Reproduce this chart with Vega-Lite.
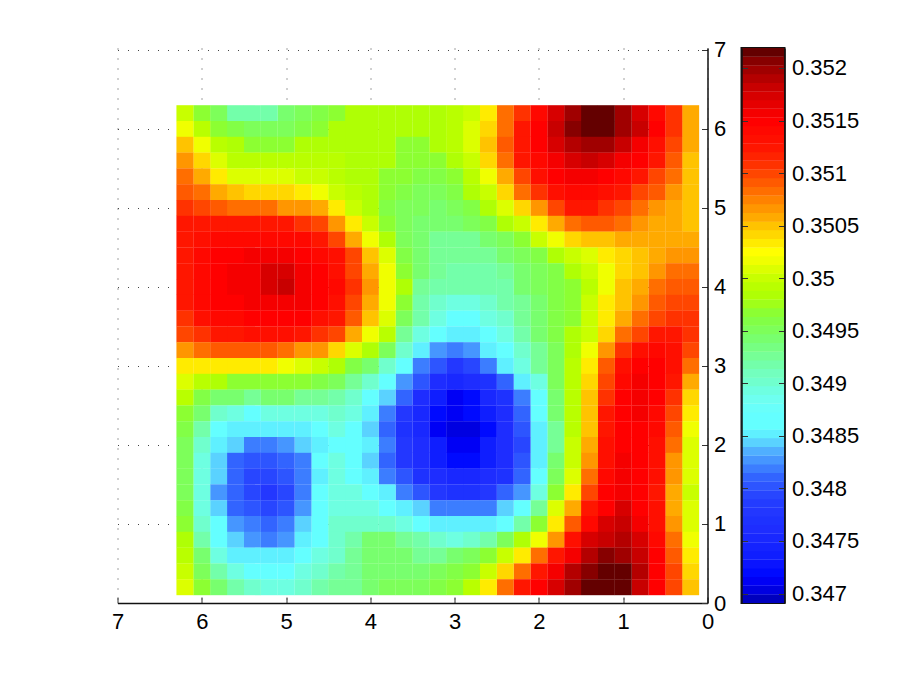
{"$schema":"https://vega.github.io/schema/vega-lite/v6.json","background":"white","padding":{"left":110.5,"top":38,"right":10,"bottom":10},"spacing":13,"config":{"font":"Liberation Sans","axis":{"title":null,"labelFont":"Liberation Sans","labelFontSize":22,"labelColor":"#000","domainColor":"#111","domainWidth":1.5,"labelPadding":12,"labelFlush":false,"labelOverlap":false}},"datasets":{"cb":[{"v":0.346951},{"v":0.347034},{"v":0.347116},{"v":0.347199},{"v":0.347281},{"v":0.347364},{"v":0.347446},{"v":0.347529},{"v":0.347611},{"v":0.347694},{"v":0.347776},{"v":0.347859},{"v":0.347941},{"v":0.348024},{"v":0.348106},{"v":0.348189},{"v":0.348271},{"v":0.348354},{"v":0.348436},{"v":0.348519},{"v":0.348601},{"v":0.348684},{"v":0.348766},{"v":0.348849},{"v":0.348931},{"v":0.349014},{"v":0.349096},{"v":0.349179},{"v":0.349261},{"v":0.349344},{"v":0.349426},{"v":0.349509},{"v":0.349591},{"v":0.349674},{"v":0.349756},{"v":0.349839},{"v":0.349921},{"v":0.350004},{"v":0.350086},{"v":0.350169},{"v":0.350251},{"v":0.350334},{"v":0.350416},{"v":0.350499},{"v":0.350581},{"v":0.350664},{"v":0.350746},{"v":0.350829},{"v":0.350911},{"v":0.350994},{"v":0.351076},{"v":0.351159},{"v":0.351241},{"v":0.351324},{"v":0.351406},{"v":0.351489},{"v":0.351571},{"v":0.351654},{"v":0.351736},{"v":0.351819},{"v":0.351901},{"v":0.351984},{"v":0.352066},{"v":0.352149}]},"resolve":{"scale":{"color":"independent"}},"hconcat":[{"width":590,"height":555,"view":{"stroke":null},"data":{"values":[
{"x":0.2,"y":6.2,"v":0.3506},{"x":0.4,"y":6.2,"v":0.3511},{"x":0.6,"y":6.2,"v":0.3514},{"x":0.8,"y":6.2,"v":0.3517},{"x":1.0,"y":6.2,"v":0.352},{"x":1.2,"y":6.2,"v":0.3522},{"x":1.4,"y":6.2,"v":0.3522},{"x":1.6,"y":6.2,"v":0.352},{"x":1.8,"y":6.2,"v":0.3517},{"x":2.0,"y":6.2,"v":0.3514},{"x":2.2,"y":6.2,"v":0.3511},{"x":2.4,"y":6.2,"v":0.3508},{"x":2.6,"y":6.2,"v":0.3503},{"x":2.8,"y":6.2,"v":0.35},{"x":3.0,"y":6.2,"v":0.3499},{"x":3.2,"y":6.2,"v":0.3498},{"x":3.4,"y":6.2,"v":0.3498},{"x":3.6,"y":6.2,"v":0.3498},{"x":3.8,"y":6.2,"v":0.3498},{"x":4.0,"y":6.2,"v":0.3498},{"x":4.2,"y":6.2,"v":0.3498},{"x":4.4,"y":6.2,"v":0.3497},{"x":4.6,"y":6.2,"v":0.3496},{"x":4.8,"y":6.2,"v":0.3495},{"x":5.0,"y":6.2,"v":0.3494},{"x":5.2,"y":6.2,"v":0.3492},{"x":5.4,"y":6.2,"v":0.3492},{"x":5.6,"y":6.2,"v":0.3492},{"x":5.8,"y":6.2,"v":0.3495},{"x":6.0,"y":6.2,"v":0.3497},{"x":6.2,"y":6.2,"v":0.35},
{"x":0.2,"y":6.0,"v":0.3506},{"x":0.4,"y":6.0,"v":0.3511},{"x":0.6,"y":6.0,"v":0.3515},{"x":0.8,"y":6.0,"v":0.3518},{"x":1.0,"y":6.0,"v":0.352},{"x":1.2,"y":6.0,"v":0.3522},{"x":1.4,"y":6.0,"v":0.3522},{"x":1.6,"y":6.0,"v":0.3521},{"x":1.8,"y":6.0,"v":0.3518},{"x":2.0,"y":6.0,"v":0.3515},{"x":2.2,"y":6.0,"v":0.3512},{"x":2.4,"y":6.0,"v":0.3508},{"x":2.6,"y":6.0,"v":0.3504},{"x":2.8,"y":6.0,"v":0.3501},{"x":3.0,"y":6.0,"v":0.3499},{"x":3.2,"y":6.0,"v":0.3498},{"x":3.4,"y":6.0,"v":0.3498},{"x":3.6,"y":6.0,"v":0.3498},{"x":3.8,"y":6.0,"v":0.3498},{"x":4.0,"y":6.0,"v":0.3498},{"x":4.2,"y":6.0,"v":0.3498},{"x":4.4,"y":6.0,"v":0.3498},{"x":4.6,"y":6.0,"v":0.3497},{"x":4.8,"y":6.0,"v":0.3496},{"x":5.0,"y":6.0,"v":0.3495},{"x":5.2,"y":6.0,"v":0.3495},{"x":5.4,"y":6.0,"v":0.3495},{"x":5.6,"y":6.0,"v":0.3496},{"x":5.8,"y":6.0,"v":0.3497},{"x":6.0,"y":6.0,"v":0.3499},{"x":6.2,"y":6.0,"v":0.3502},
{"x":0.2,"y":5.8,"v":0.3506},{"x":0.4,"y":5.8,"v":0.351},{"x":0.6,"y":5.8,"v":0.3513},{"x":0.8,"y":5.8,"v":0.3516},{"x":1.0,"y":5.8,"v":0.3518},{"x":1.2,"y":5.8,"v":0.352},{"x":1.4,"y":5.8,"v":0.352},{"x":1.6,"y":5.8,"v":0.3519},{"x":1.8,"y":5.8,"v":0.3517},{"x":2.0,"y":5.8,"v":0.3515},{"x":2.2,"y":5.8,"v":0.3512},{"x":2.4,"y":5.8,"v":0.3509},{"x":2.6,"y":5.8,"v":0.3505},{"x":2.8,"y":5.8,"v":0.3501},{"x":3.0,"y":5.8,"v":0.3499},{"x":3.2,"y":5.8,"v":0.3498},{"x":3.4,"y":5.8,"v":0.3497},{"x":3.6,"y":5.8,"v":0.3497},{"x":3.8,"y":5.8,"v":0.3498},{"x":4.0,"y":5.8,"v":0.3498},{"x":4.2,"y":5.8,"v":0.3498},{"x":4.4,"y":5.8,"v":0.3498},{"x":4.6,"y":5.8,"v":0.3498},{"x":4.8,"y":5.8,"v":0.3498},{"x":5.0,"y":5.8,"v":0.3497},{"x":5.2,"y":5.8,"v":0.3497},{"x":5.4,"y":5.8,"v":0.3497},{"x":5.6,"y":5.8,"v":0.3498},{"x":5.8,"y":5.8,"v":0.3499},{"x":6.0,"y":5.8,"v":0.3502},{"x":6.2,"y":5.8,"v":0.3505},
{"x":0.2,"y":5.6,"v":0.3505},{"x":0.4,"y":5.6,"v":0.3509},{"x":0.6,"y":5.6,"v":0.3512},{"x":0.8,"y":5.6,"v":0.3515},{"x":1.0,"y":5.6,"v":0.3516},{"x":1.2,"y":5.6,"v":0.3517},{"x":1.4,"y":5.6,"v":0.3518},{"x":1.6,"y":5.6,"v":0.3517},{"x":1.8,"y":5.6,"v":0.3516},{"x":2.0,"y":5.6,"v":0.3514},{"x":2.2,"y":5.6,"v":0.3512},{"x":2.4,"y":5.6,"v":0.3508},{"x":2.6,"y":5.6,"v":0.3504},{"x":2.8,"y":5.6,"v":0.35},{"x":3.0,"y":5.6,"v":0.3498},{"x":3.2,"y":5.6,"v":0.3497},{"x":3.4,"y":5.6,"v":0.3497},{"x":3.6,"y":5.6,"v":0.3497},{"x":3.8,"y":5.6,"v":0.3498},{"x":4.0,"y":5.6,"v":0.3498},{"x":4.2,"y":5.6,"v":0.3498},{"x":4.4,"y":5.6,"v":0.3499},{"x":4.6,"y":5.6,"v":0.3499},{"x":4.8,"y":5.6,"v":0.3499},{"x":5.0,"y":5.6,"v":0.3499},{"x":5.2,"y":5.6,"v":0.3499},{"x":5.4,"y":5.6,"v":0.3499},{"x":5.6,"y":5.6,"v":0.3499},{"x":5.8,"y":5.6,"v":0.3501},{"x":6.0,"y":5.6,"v":0.3504},{"x":6.2,"y":5.6,"v":0.3507},
{"x":0.2,"y":5.4,"v":0.3505},{"x":0.4,"y":5.4,"v":0.3508},{"x":0.6,"y":5.4,"v":0.351},{"x":0.8,"y":5.4,"v":0.3512},{"x":1.0,"y":5.4,"v":0.3514},{"x":1.2,"y":5.4,"v":0.3515},{"x":1.4,"y":5.4,"v":0.3516},{"x":1.6,"y":5.4,"v":0.3516},{"x":1.8,"y":5.4,"v":0.3515},{"x":2.0,"y":5.4,"v":0.3513},{"x":2.2,"y":5.4,"v":0.351},{"x":2.4,"y":5.4,"v":0.3506},{"x":2.6,"y":5.4,"v":0.3502},{"x":2.8,"y":5.4,"v":0.3499},{"x":3.0,"y":5.4,"v":0.3497},{"x":3.2,"y":5.4,"v":0.3496},{"x":3.4,"y":5.4,"v":0.3496},{"x":3.6,"y":5.4,"v":0.3497},{"x":3.8,"y":5.4,"v":0.3497},{"x":4.0,"y":5.4,"v":0.3498},{"x":4.2,"y":5.4,"v":0.3498},{"x":4.4,"y":5.4,"v":0.3499},{"x":4.6,"y":5.4,"v":0.35},{"x":4.8,"y":5.4,"v":0.35},{"x":5.0,"y":5.4,"v":0.3501},{"x":5.2,"y":5.4,"v":0.3501},{"x":5.4,"y":5.4,"v":0.3501},{"x":5.6,"y":5.4,"v":0.3501},{"x":5.8,"y":5.4,"v":0.3503},{"x":6.0,"y":5.4,"v":0.3506},{"x":6.2,"y":5.4,"v":0.3508},
{"x":0.2,"y":5.2,"v":0.3505},{"x":0.4,"y":5.2,"v":0.3507},{"x":0.6,"y":5.2,"v":0.3509},{"x":0.8,"y":5.2,"v":0.351},{"x":1.0,"y":5.2,"v":0.3512},{"x":1.2,"y":5.2,"v":0.3513},{"x":1.4,"y":5.2,"v":0.3514},{"x":1.6,"y":5.2,"v":0.3514},{"x":1.8,"y":5.2,"v":0.3513},{"x":2.0,"y":5.2,"v":0.3511},{"x":2.2,"y":5.2,"v":0.3508},{"x":2.4,"y":5.2,"v":0.3504},{"x":2.6,"y":5.2,"v":0.35},{"x":2.8,"y":5.2,"v":0.3498},{"x":3.0,"y":5.2,"v":0.3496},{"x":3.2,"y":5.2,"v":0.3495},{"x":3.4,"y":5.2,"v":0.3495},{"x":3.6,"y":5.2,"v":0.3496},{"x":3.8,"y":5.2,"v":0.3497},{"x":4.0,"y":5.2,"v":0.3498},{"x":4.2,"y":5.2,"v":0.3499},{"x":4.4,"y":5.2,"v":0.35},{"x":4.6,"y":5.2,"v":0.3502},{"x":4.8,"y":5.2,"v":0.3503},{"x":5.0,"y":5.2,"v":0.3504},{"x":5.2,"y":5.2,"v":0.3504},{"x":5.4,"y":5.2,"v":0.3504},{"x":5.6,"y":5.2,"v":0.3505},{"x":5.8,"y":5.2,"v":0.3506},{"x":6.0,"y":5.2,"v":0.3508},{"x":6.2,"y":5.2,"v":0.3509},
{"x":0.2,"y":5.0,"v":0.3505},{"x":0.4,"y":5.0,"v":0.3506},{"x":0.6,"y":5.0,"v":0.3507},{"x":0.8,"y":5.0,"v":0.3508},{"x":1.0,"y":5.0,"v":0.351},{"x":1.2,"y":5.0,"v":0.3511},{"x":1.4,"y":5.0,"v":0.3512},{"x":1.6,"y":5.0,"v":0.3512},{"x":1.8,"y":5.0,"v":0.351},{"x":2.0,"y":5.0,"v":0.3507},{"x":2.2,"y":5.0,"v":0.3504},{"x":2.4,"y":5.0,"v":0.3501},{"x":2.6,"y":5.0,"v":0.3498},{"x":2.8,"y":5.0,"v":0.3496},{"x":3.0,"y":5.0,"v":0.3495},{"x":3.2,"y":5.0,"v":0.3494},{"x":3.4,"y":5.0,"v":0.3495},{"x":3.6,"y":5.0,"v":0.3495},{"x":3.8,"y":5.0,"v":0.3496},{"x":4.0,"y":5.0,"v":0.3498},{"x":4.2,"y":5.0,"v":0.35},{"x":4.4,"y":5.0,"v":0.3503},{"x":4.6,"y":5.0,"v":0.3506},{"x":4.8,"y":5.0,"v":0.3507},{"x":5.0,"y":5.0,"v":0.3507},{"x":5.2,"y":5.0,"v":0.3508},{"x":5.4,"y":5.0,"v":0.3508},{"x":5.6,"y":5.0,"v":0.3508},{"x":5.8,"y":5.0,"v":0.3509},{"x":6.0,"y":5.0,"v":0.351},{"x":6.2,"y":5.0,"v":0.3511},
{"x":0.2,"y":4.8,"v":0.3505},{"x":0.4,"y":4.8,"v":0.3506},{"x":0.6,"y":4.8,"v":0.3506},{"x":0.8,"y":4.8,"v":0.3507},{"x":1.0,"y":4.8,"v":0.3508},{"x":1.2,"y":4.8,"v":0.3509},{"x":1.4,"y":4.8,"v":0.3509},{"x":1.6,"y":4.8,"v":0.3508},{"x":1.8,"y":4.8,"v":0.3506},{"x":2.0,"y":4.8,"v":0.3503},{"x":2.2,"y":4.8,"v":0.35},{"x":2.4,"y":4.8,"v":0.3498},{"x":2.6,"y":4.8,"v":0.3496},{"x":2.8,"y":4.8,"v":0.3495},{"x":3.0,"y":4.8,"v":0.3494},{"x":3.2,"y":4.8,"v":0.3494},{"x":3.4,"y":4.8,"v":0.3494},{"x":3.6,"y":4.8,"v":0.3495},{"x":3.8,"y":4.8,"v":0.3497},{"x":4.0,"y":4.8,"v":0.35},{"x":4.2,"y":4.8,"v":0.3503},{"x":4.4,"y":4.8,"v":0.3507},{"x":4.6,"y":4.8,"v":0.351},{"x":4.8,"y":4.8,"v":0.3511},{"x":5.0,"y":4.8,"v":0.3512},{"x":5.2,"y":4.8,"v":0.3512},{"x":5.4,"y":4.8,"v":0.3512},{"x":5.6,"y":4.8,"v":0.3512},{"x":5.8,"y":4.8,"v":0.3512},{"x":6.0,"y":4.8,"v":0.3512},{"x":6.2,"y":4.8,"v":0.3512},
{"x":0.2,"y":4.6,"v":0.3506},{"x":0.4,"y":4.6,"v":0.3506},{"x":0.6,"y":4.6,"v":0.3506},{"x":0.8,"y":4.6,"v":0.3506},{"x":1.0,"y":4.6,"v":0.3506},{"x":1.2,"y":4.6,"v":0.3505},{"x":1.4,"y":4.6,"v":0.3505},{"x":1.6,"y":4.6,"v":0.3504},{"x":1.8,"y":4.6,"v":0.3502},{"x":2.0,"y":4.6,"v":0.35},{"x":2.2,"y":4.6,"v":0.3497},{"x":2.4,"y":4.6,"v":0.3495},{"x":2.6,"y":4.6,"v":0.3494},{"x":2.8,"y":4.6,"v":0.3493},{"x":3.0,"y":4.6,"v":0.3493},{"x":3.2,"y":4.6,"v":0.3493},{"x":3.4,"y":4.6,"v":0.3494},{"x":3.6,"y":4.6,"v":0.3495},{"x":3.8,"y":4.6,"v":0.3498},{"x":4.0,"y":4.6,"v":0.3502},{"x":4.2,"y":4.6,"v":0.3506},{"x":4.4,"y":4.6,"v":0.351},{"x":4.6,"y":4.6,"v":0.3512},{"x":4.8,"y":4.6,"v":0.3514},{"x":5.0,"y":4.6,"v":0.3514},{"x":5.2,"y":4.6,"v":0.3514},{"x":5.4,"y":4.6,"v":0.3514},{"x":5.6,"y":4.6,"v":0.3514},{"x":5.8,"y":4.6,"v":0.3514},{"x":6.0,"y":4.6,"v":0.3513},{"x":6.2,"y":4.6,"v":0.3512},
{"x":0.2,"y":4.4,"v":0.3507},{"x":0.4,"y":4.4,"v":0.3507},{"x":0.6,"y":4.4,"v":0.3506},{"x":0.8,"y":4.4,"v":0.3505},{"x":1.0,"y":4.4,"v":0.3504},{"x":1.2,"y":4.4,"v":0.3503},{"x":1.4,"y":4.4,"v":0.3501},{"x":1.6,"y":4.4,"v":0.35},{"x":1.8,"y":4.4,"v":0.3498},{"x":2.0,"y":4.4,"v":0.3496},{"x":2.2,"y":4.4,"v":0.3495},{"x":2.4,"y":4.4,"v":0.3494},{"x":2.6,"y":4.4,"v":0.3493},{"x":2.8,"y":4.4,"v":0.3493},{"x":3.0,"y":4.4,"v":0.3493},{"x":3.2,"y":4.4,"v":0.3493},{"x":3.4,"y":4.4,"v":0.3494},{"x":3.6,"y":4.4,"v":0.3496},{"x":3.8,"y":4.4,"v":0.3501},{"x":4.0,"y":4.4,"v":0.3505},{"x":4.2,"y":4.4,"v":0.351},{"x":4.4,"y":4.4,"v":0.3513},{"x":4.6,"y":4.4,"v":0.3514},{"x":4.8,"y":4.4,"v":0.3515},{"x":5.0,"y":4.4,"v":0.3516},{"x":5.2,"y":4.4,"v":0.3516},{"x":5.4,"y":4.4,"v":0.3516},{"x":5.6,"y":4.4,"v":0.3515},{"x":5.8,"y":4.4,"v":0.3515},{"x":6.0,"y":4.4,"v":0.3514},{"x":6.2,"y":4.4,"v":0.3512},
{"x":0.2,"y":4.2,"v":0.3508},{"x":0.4,"y":4.2,"v":0.3508},{"x":0.6,"y":4.2,"v":0.3507},{"x":0.8,"y":4.2,"v":0.3505},{"x":1.0,"y":4.2,"v":0.3504},{"x":1.2,"y":4.2,"v":0.3502},{"x":1.4,"y":4.2,"v":0.35},{"x":1.6,"y":4.2,"v":0.3498},{"x":1.8,"y":4.2,"v":0.3496},{"x":2.0,"y":4.2,"v":0.3495},{"x":2.2,"y":4.2,"v":0.3494},{"x":2.4,"y":4.2,"v":0.3493},{"x":2.6,"y":4.2,"v":0.3492},{"x":2.8,"y":4.2,"v":0.3492},{"x":3.0,"y":4.2,"v":0.3492},{"x":3.2,"y":4.2,"v":0.3493},{"x":3.4,"y":4.2,"v":0.3494},{"x":3.6,"y":4.2,"v":0.3497},{"x":3.8,"y":4.2,"v":0.3502},{"x":4.0,"y":4.2,"v":0.3506},{"x":4.2,"y":4.2,"v":0.351},{"x":4.4,"y":4.2,"v":0.3513},{"x":4.6,"y":4.2,"v":0.3515},{"x":4.8,"y":4.2,"v":0.3516},{"x":5.0,"y":4.2,"v":0.3517},{"x":5.2,"y":4.2,"v":0.3517},{"x":5.4,"y":4.2,"v":0.3516},{"x":5.6,"y":4.2,"v":0.3516},{"x":5.8,"y":4.2,"v":0.3515},{"x":6.0,"y":4.2,"v":0.3514},{"x":6.2,"y":4.2,"v":0.3512},
{"x":0.2,"y":4.0,"v":0.3509},{"x":0.4,"y":4.0,"v":0.3509},{"x":0.6,"y":4.0,"v":0.3508},{"x":0.8,"y":4.0,"v":0.3506},{"x":1.0,"y":4.0,"v":0.3505},{"x":1.2,"y":4.0,"v":0.3502},{"x":1.4,"y":4.0,"v":0.3499},{"x":1.6,"y":4.0,"v":0.3497},{"x":1.8,"y":4.0,"v":0.3496},{"x":2.0,"y":4.0,"v":0.3495},{"x":2.2,"y":4.0,"v":0.3494},{"x":2.4,"y":4.0,"v":0.3492},{"x":2.6,"y":4.0,"v":0.3492},{"x":2.8,"y":4.0,"v":0.3492},{"x":3.0,"y":4.0,"v":0.3492},{"x":3.2,"y":4.0,"v":0.3492},{"x":3.4,"y":4.0,"v":0.3493},{"x":3.6,"y":4.0,"v":0.3498},{"x":3.8,"y":4.0,"v":0.3502},{"x":4.0,"y":4.0,"v":0.3507},{"x":4.2,"y":4.0,"v":0.3511},{"x":4.4,"y":4.0,"v":0.3514},{"x":4.6,"y":4.0,"v":0.3515},{"x":4.8,"y":4.0,"v":0.3516},{"x":5.0,"y":4.0,"v":0.3518},{"x":5.2,"y":4.0,"v":0.3517},{"x":5.4,"y":4.0,"v":0.3516},{"x":5.6,"y":4.0,"v":0.3516},{"x":5.8,"y":4.0,"v":0.3515},{"x":6.0,"y":4.0,"v":0.3514},{"x":6.2,"y":4.0,"v":0.3512},
{"x":0.2,"y":3.8,"v":0.351},{"x":0.4,"y":3.8,"v":0.351},{"x":0.6,"y":3.8,"v":0.3509},{"x":0.8,"y":3.8,"v":0.3507},{"x":1.0,"y":3.8,"v":0.3505},{"x":1.2,"y":3.8,"v":0.3503},{"x":1.4,"y":3.8,"v":0.35},{"x":1.6,"y":3.8,"v":0.3497},{"x":1.8,"y":3.8,"v":0.3496},{"x":2.0,"y":3.8,"v":0.3494},{"x":2.2,"y":3.8,"v":0.3493},{"x":2.4,"y":3.8,"v":0.3492},{"x":2.6,"y":3.8,"v":0.349},{"x":2.8,"y":3.8,"v":0.3489},{"x":3.0,"y":3.8,"v":0.3489},{"x":3.2,"y":3.8,"v":0.349},{"x":3.4,"y":3.8,"v":0.3492},{"x":3.6,"y":3.8,"v":0.3497},{"x":3.8,"y":3.8,"v":0.3502},{"x":4.0,"y":3.8,"v":0.3506},{"x":4.2,"y":3.8,"v":0.351},{"x":4.4,"y":3.8,"v":0.3513},{"x":4.6,"y":3.8,"v":0.3515},{"x":4.8,"y":3.8,"v":0.3516},{"x":5.0,"y":3.8,"v":0.3516},{"x":5.2,"y":3.8,"v":0.3516},{"x":5.4,"y":3.8,"v":0.3516},{"x":5.6,"y":3.8,"v":0.3515},{"x":5.8,"y":3.8,"v":0.3515},{"x":6.0,"y":3.8,"v":0.3514},{"x":6.2,"y":3.8,"v":0.3512},
{"x":0.2,"y":3.6,"v":0.3511},{"x":0.4,"y":3.6,"v":0.3511},{"x":0.6,"y":3.6,"v":0.351},{"x":0.8,"y":3.6,"v":0.3508},{"x":1.0,"y":3.6,"v":0.3506},{"x":1.2,"y":3.6,"v":0.3503},{"x":1.4,"y":3.6,"v":0.35},{"x":1.6,"y":3.6,"v":0.3497},{"x":1.8,"y":3.6,"v":0.3496},{"x":2.0,"y":3.6,"v":0.3494},{"x":2.2,"y":3.6,"v":0.3493},{"x":2.4,"y":3.6,"v":0.349},{"x":2.6,"y":3.6,"v":0.3489},{"x":2.8,"y":3.6,"v":0.3487},{"x":3.0,"y":3.6,"v":0.3487},{"x":3.2,"y":3.6,"v":0.3489},{"x":3.4,"y":3.6,"v":0.3492},{"x":3.6,"y":3.6,"v":0.3495},{"x":3.8,"y":3.6,"v":0.3501},{"x":4.0,"y":3.6,"v":0.3505},{"x":4.2,"y":3.6,"v":0.3509},{"x":4.4,"y":3.6,"v":0.3512},{"x":4.6,"y":3.6,"v":0.3513},{"x":4.8,"y":3.6,"v":0.3515},{"x":5.0,"y":3.6,"v":0.3515},{"x":5.2,"y":3.6,"v":0.3515},{"x":5.4,"y":3.6,"v":0.3515},{"x":5.6,"y":3.6,"v":0.3514},{"x":5.8,"y":3.6,"v":0.3514},{"x":6.0,"y":3.6,"v":0.3513},{"x":6.2,"y":3.6,"v":0.3511},
{"x":0.2,"y":3.4,"v":0.3511},{"x":0.4,"y":3.4,"v":0.3512},{"x":0.6,"y":3.4,"v":0.3512},{"x":0.8,"y":3.4,"v":0.351},{"x":1.0,"y":3.4,"v":0.3508},{"x":1.2,"y":3.4,"v":0.3504},{"x":1.4,"y":3.4,"v":0.35},{"x":1.6,"y":3.4,"v":0.3498},{"x":1.8,"y":3.4,"v":0.3496},{"x":2.0,"y":3.4,"v":0.3494},{"x":2.2,"y":3.4,"v":0.3492},{"x":2.4,"y":3.4,"v":0.3489},{"x":2.6,"y":3.4,"v":0.3487},{"x":2.8,"y":3.4,"v":0.3485},{"x":3.0,"y":3.4,"v":0.3485},{"x":3.2,"y":3.4,"v":0.3486},{"x":3.4,"y":3.4,"v":0.3489},{"x":3.6,"y":3.4,"v":0.3493},{"x":3.8,"y":3.4,"v":0.3499},{"x":4.0,"y":3.4,"v":0.3502},{"x":4.2,"y":3.4,"v":0.3506},{"x":4.4,"y":3.4,"v":0.351},{"x":4.6,"y":3.4,"v":0.3511},{"x":4.8,"y":3.4,"v":0.3512},{"x":5.0,"y":3.4,"v":0.3513},{"x":5.2,"y":3.4,"v":0.3513},{"x":5.4,"y":3.4,"v":0.3513},{"x":5.6,"y":3.4,"v":0.3512},{"x":5.8,"y":3.4,"v":0.3512},{"x":6.0,"y":3.4,"v":0.3511},{"x":6.2,"y":3.4,"v":0.351},
{"x":0.2,"y":3.2,"v":0.351},{"x":0.4,"y":3.2,"v":0.3513},{"x":0.6,"y":3.2,"v":0.3514},{"x":0.8,"y":3.2,"v":0.3513},{"x":1.0,"y":3.2,"v":0.3511},{"x":1.2,"y":3.2,"v":0.3507},{"x":1.4,"y":3.2,"v":0.3502},{"x":1.6,"y":3.2,"v":0.3498},{"x":1.8,"y":3.2,"v":0.3495},{"x":2.0,"y":3.2,"v":0.3493},{"x":2.2,"y":3.2,"v":0.349},{"x":2.4,"y":3.2,"v":0.3486},{"x":2.6,"y":3.2,"v":0.3485},{"x":2.8,"y":3.2,"v":0.3483},{"x":3.0,"y":3.2,"v":0.3482},{"x":3.2,"y":3.2,"v":0.3483},{"x":3.4,"y":3.2,"v":0.3485},{"x":3.6,"y":3.2,"v":0.349},{"x":3.8,"y":3.2,"v":0.3495},{"x":4.0,"y":3.2,"v":0.3498},{"x":4.2,"y":3.2,"v":0.3501},{"x":4.4,"y":3.2,"v":0.3504},{"x":4.6,"y":3.2,"v":0.3507},{"x":4.8,"y":3.2,"v":0.3507},{"x":5.0,"y":3.2,"v":0.3508},{"x":5.2,"y":3.2,"v":0.3509},{"x":5.4,"y":3.2,"v":0.3509},{"x":5.6,"y":3.2,"v":0.3509},{"x":5.8,"y":3.2,"v":0.3509},{"x":6.0,"y":3.2,"v":0.3508},{"x":6.2,"y":3.2,"v":0.3507},
{"x":0.2,"y":3.0,"v":0.3508},{"x":0.4,"y":3.0,"v":0.3513},{"x":0.6,"y":3.0,"v":0.3515},{"x":0.8,"y":3.0,"v":0.3515},{"x":1.0,"y":3.0,"v":0.3513},{"x":1.2,"y":3.0,"v":0.3509},{"x":1.4,"y":3.0,"v":0.3503},{"x":1.6,"y":3.0,"v":0.3499},{"x":1.8,"y":3.0,"v":0.3495},{"x":2.0,"y":3.0,"v":0.3493},{"x":2.2,"y":3.0,"v":0.3489},{"x":2.4,"y":3.0,"v":0.3485},{"x":2.6,"y":3.0,"v":0.3482},{"x":2.8,"y":3.0,"v":0.3479},{"x":3.0,"y":3.0,"v":0.3478},{"x":3.2,"y":3.0,"v":0.348},{"x":3.4,"y":3.0,"v":0.3482},{"x":3.6,"y":3.0,"v":0.3486},{"x":3.8,"y":3.0,"v":0.349},{"x":4.0,"y":3.0,"v":0.3494},{"x":4.2,"y":3.0,"v":0.3496},{"x":4.4,"y":3.0,"v":0.3498},{"x":4.6,"y":3.0,"v":0.35},{"x":4.8,"y":3.0,"v":0.3501},{"x":5.0,"y":3.0,"v":0.3502},{"x":5.2,"y":3.0,"v":0.3503},{"x":5.4,"y":3.0,"v":0.3503},{"x":5.6,"y":3.0,"v":0.3503},{"x":5.8,"y":3.0,"v":0.3503},{"x":6.0,"y":3.0,"v":0.3503},{"x":6.2,"y":3.0,"v":0.3503},
{"x":0.2,"y":2.8,"v":0.3506},{"x":0.4,"y":2.8,"v":0.3512},{"x":0.6,"y":2.8,"v":0.3515},{"x":0.8,"y":2.8,"v":0.3516},{"x":1.0,"y":2.8,"v":0.3514},{"x":1.2,"y":2.8,"v":0.351},{"x":1.4,"y":2.8,"v":0.3504},{"x":1.6,"y":2.8,"v":0.3499},{"x":1.8,"y":2.8,"v":0.3495},{"x":2.0,"y":2.8,"v":0.3489},{"x":2.2,"y":2.8,"v":0.3485},{"x":2.4,"y":2.8,"v":0.3481},{"x":2.6,"y":2.8,"v":0.3477},{"x":2.8,"y":2.8,"v":0.3476},{"x":3.0,"y":2.8,"v":0.3475},{"x":3.2,"y":2.8,"v":0.3476},{"x":3.4,"y":2.8,"v":0.348},{"x":3.6,"y":2.8,"v":0.3483},{"x":3.8,"y":2.8,"v":0.3486},{"x":4.0,"y":2.8,"v":0.349},{"x":4.2,"y":2.8,"v":0.3493},{"x":4.4,"y":2.8,"v":0.3495},{"x":4.6,"y":2.8,"v":0.3496},{"x":4.8,"y":2.8,"v":0.3497},{"x":5.0,"y":2.8,"v":0.3497},{"x":5.2,"y":2.8,"v":0.3497},{"x":5.4,"y":2.8,"v":0.3497},{"x":5.6,"y":2.8,"v":0.3497},{"x":5.8,"y":2.8,"v":0.3498},{"x":6.0,"y":2.8,"v":0.3499},{"x":6.2,"y":2.8,"v":0.3501},
{"x":0.2,"y":2.6,"v":0.3504},{"x":0.4,"y":2.6,"v":0.3511},{"x":0.6,"y":2.6,"v":0.3515},{"x":0.8,"y":2.6,"v":0.3516},{"x":1.0,"y":2.6,"v":0.3515},{"x":1.2,"y":2.6,"v":0.3511},{"x":1.4,"y":2.6,"v":0.3505},{"x":1.6,"y":2.6,"v":0.3499},{"x":1.8,"y":2.6,"v":0.3494},{"x":2.0,"y":2.6,"v":0.3487},{"x":2.2,"y":2.6,"v":0.3482},{"x":2.4,"y":2.6,"v":0.3477},{"x":2.6,"y":2.6,"v":0.3475},{"x":2.8,"y":2.6,"v":0.3472},{"x":3.0,"y":2.6,"v":0.3471},{"x":3.2,"y":2.6,"v":0.3474},{"x":3.4,"y":2.6,"v":0.3476},{"x":3.6,"y":2.6,"v":0.3481},{"x":3.8,"y":2.6,"v":0.3484},{"x":4.0,"y":2.6,"v":0.3487},{"x":4.2,"y":2.6,"v":0.349},{"x":4.4,"y":2.6,"v":0.3492},{"x":4.6,"y":2.6,"v":0.3493},{"x":4.8,"y":2.6,"v":0.3493},{"x":5.0,"y":2.6,"v":0.3494},{"x":5.2,"y":2.6,"v":0.3494},{"x":5.4,"y":2.6,"v":0.3493},{"x":5.6,"y":2.6,"v":0.3494},{"x":5.8,"y":2.6,"v":0.3494},{"x":6.0,"y":2.6,"v":0.3496},{"x":6.2,"y":2.6,"v":0.3499},
{"x":0.2,"y":2.4,"v":0.3503},{"x":0.4,"y":2.4,"v":0.351},{"x":0.6,"y":2.4,"v":0.3514},{"x":0.8,"y":2.4,"v":0.3516},{"x":1.0,"y":2.4,"v":0.3515},{"x":1.2,"y":2.4,"v":0.3512},{"x":1.4,"y":2.4,"v":0.3505},{"x":1.6,"y":2.4,"v":0.3499},{"x":1.8,"y":2.4,"v":0.3494},{"x":2.0,"y":2.4,"v":0.3486},{"x":2.2,"y":2.4,"v":0.3481},{"x":2.4,"y":2.4,"v":0.3476},{"x":2.6,"y":2.4,"v":0.3474},{"x":2.8,"y":2.4,"v":0.3472},{"x":3.0,"y":2.4,"v":0.3471},{"x":3.2,"y":2.4,"v":0.3472},{"x":3.4,"y":2.4,"v":0.3475},{"x":3.6,"y":2.4,"v":0.3478},{"x":3.8,"y":2.4,"v":0.3482},{"x":4.0,"y":2.4,"v":0.3485},{"x":4.2,"y":2.4,"v":0.3489},{"x":4.4,"y":2.4,"v":0.349},{"x":4.6,"y":2.4,"v":0.3489},{"x":4.8,"y":2.4,"v":0.3489},{"x":5.0,"y":2.4,"v":0.3489},{"x":5.2,"y":2.4,"v":0.3489},{"x":5.4,"y":2.4,"v":0.3487},{"x":5.6,"y":2.4,"v":0.3489},{"x":5.8,"y":2.4,"v":0.349},{"x":6.0,"y":2.4,"v":0.3494},{"x":6.2,"y":2.4,"v":0.3497},
{"x":0.2,"y":2.2,"v":0.3502},{"x":0.4,"y":2.2,"v":0.3509},{"x":0.6,"y":2.2,"v":0.3514},{"x":0.8,"y":2.2,"v":0.3515},{"x":1.0,"y":2.2,"v":0.3515},{"x":1.2,"y":2.2,"v":0.3512},{"x":1.4,"y":2.2,"v":0.3505},{"x":1.6,"y":2.2,"v":0.3499},{"x":1.8,"y":2.2,"v":0.3493},{"x":2.0,"y":2.2,"v":0.3485},{"x":2.2,"y":2.2,"v":0.348},{"x":2.4,"y":2.2,"v":0.3476},{"x":2.6,"y":2.2,"v":0.3472},{"x":2.8,"y":2.2,"v":0.347},{"x":3.0,"y":2.2,"v":0.347},{"x":3.2,"y":2.2,"v":0.3471},{"x":3.4,"y":2.2,"v":0.3475},{"x":3.6,"y":2.2,"v":0.3477},{"x":3.8,"y":2.2,"v":0.3481},{"x":4.0,"y":2.2,"v":0.3484},{"x":4.2,"y":2.2,"v":0.3487},{"x":4.4,"y":2.2,"v":0.3489},{"x":4.6,"y":2.2,"v":0.3487},{"x":4.8,"y":2.2,"v":0.3485},{"x":5.0,"y":2.2,"v":0.3485},{"x":5.2,"y":2.2,"v":0.3485},{"x":5.4,"y":2.2,"v":0.3485},{"x":5.6,"y":2.2,"v":0.3485},{"x":5.8,"y":2.2,"v":0.3487},{"x":6.0,"y":2.2,"v":0.3492},{"x":6.2,"y":2.2,"v":0.3496},
{"x":0.2,"y":2.0,"v":0.3501},{"x":0.4,"y":2.0,"v":0.3508},{"x":0.6,"y":2.0,"v":0.3513},{"x":0.8,"y":2.0,"v":0.3515},{"x":1.0,"y":2.0,"v":0.3515},{"x":1.2,"y":2.0,"v":0.3513},{"x":1.4,"y":2.0,"v":0.3506},{"x":1.6,"y":2.0,"v":0.35},{"x":1.8,"y":2.0,"v":0.3493},{"x":2.0,"y":2.0,"v":0.3485},{"x":2.2,"y":2.0,"v":0.3479},{"x":2.4,"y":2.0,"v":0.3476},{"x":2.6,"y":2.0,"v":0.3474},{"x":2.8,"y":2.0,"v":0.3471},{"x":3.0,"y":2.0,"v":0.3471},{"x":3.2,"y":2.0,"v":0.3474},{"x":3.4,"y":2.0,"v":0.3476},{"x":3.6,"y":2.0,"v":0.3478},{"x":3.8,"y":2.0,"v":0.3482},{"x":4.0,"y":2.0,"v":0.3485},{"x":4.2,"y":2.0,"v":0.3486},{"x":4.4,"y":2.0,"v":0.3487},{"x":4.6,"y":2.0,"v":0.3485},{"x":4.8,"y":2.0,"v":0.3484},{"x":5.0,"y":2.0,"v":0.3483},{"x":5.2,"y":2.0,"v":0.3482},{"x":5.4,"y":2.0,"v":0.3482},{"x":5.6,"y":2.0,"v":0.3484},{"x":5.8,"y":2.0,"v":0.3485},{"x":6.0,"y":2.0,"v":0.349},{"x":6.2,"y":2.0,"v":0.3495},
{"x":0.2,"y":1.8,"v":0.3501},{"x":0.4,"y":1.8,"v":0.3507},{"x":0.6,"y":1.8,"v":0.3513},{"x":0.8,"y":1.8,"v":0.3515},{"x":1.0,"y":1.8,"v":0.3516},{"x":1.2,"y":1.8,"v":0.3513},{"x":1.4,"y":1.8,"v":0.3507},{"x":1.6,"y":1.8,"v":0.35},{"x":1.8,"y":1.8,"v":0.3494},{"x":2.0,"y":1.8,"v":0.3485},{"x":2.2,"y":1.8,"v":0.348},{"x":2.4,"y":1.8,"v":0.3476},{"x":2.6,"y":1.8,"v":0.3474},{"x":2.8,"y":1.8,"v":0.3472},{"x":3.0,"y":1.8,"v":0.3472},{"x":3.2,"y":1.8,"v":0.3474},{"x":3.4,"y":1.8,"v":0.3476},{"x":3.6,"y":1.8,"v":0.3478},{"x":3.8,"y":1.8,"v":0.3481},{"x":4.0,"y":1.8,"v":0.3484},{"x":4.2,"y":1.8,"v":0.3486},{"x":4.4,"y":1.8,"v":0.3489},{"x":4.6,"y":1.8,"v":0.3486},{"x":4.8,"y":1.8,"v":0.3482},{"x":5.0,"y":1.8,"v":0.3481},{"x":5.2,"y":1.8,"v":0.348},{"x":5.4,"y":1.8,"v":0.348},{"x":5.6,"y":1.8,"v":0.3481},{"x":5.8,"y":1.8,"v":0.3484},{"x":6.0,"y":1.8,"v":0.3489},{"x":6.2,"y":1.8,"v":0.3495},
{"x":0.2,"y":1.6,"v":0.3501},{"x":0.4,"y":1.6,"v":0.3507},{"x":0.6,"y":1.6,"v":0.3513},{"x":0.8,"y":1.6,"v":0.3515},{"x":1.0,"y":1.6,"v":0.3516},{"x":1.2,"y":1.6,"v":0.3514},{"x":1.4,"y":1.6,"v":0.3508},{"x":1.6,"y":1.6,"v":0.3501},{"x":1.8,"y":1.6,"v":0.3495},{"x":2.0,"y":1.6,"v":0.3486},{"x":2.2,"y":1.6,"v":0.3481},{"x":2.4,"y":1.6,"v":0.3477},{"x":2.6,"y":1.6,"v":0.3476},{"x":2.8,"y":1.6,"v":0.3475},{"x":3.0,"y":1.6,"v":0.3475},{"x":3.2,"y":1.6,"v":0.3476},{"x":3.4,"y":1.6,"v":0.3477},{"x":3.6,"y":1.6,"v":0.348},{"x":3.8,"y":1.6,"v":0.3482},{"x":4.0,"y":1.6,"v":0.3485},{"x":4.2,"y":1.6,"v":0.3487},{"x":4.4,"y":1.6,"v":0.3489},{"x":4.6,"y":1.6,"v":0.3485},{"x":4.8,"y":1.6,"v":0.3482},{"x":5.0,"y":1.6,"v":0.348},{"x":5.2,"y":1.6,"v":0.3479},{"x":5.4,"y":1.6,"v":0.3479},{"x":5.6,"y":1.6,"v":0.3481},{"x":5.8,"y":1.6,"v":0.3484},{"x":6.0,"y":1.6,"v":0.3489},{"x":6.2,"y":1.6,"v":0.3495},
{"x":0.2,"y":1.4,"v":0.35},{"x":0.4,"y":1.4,"v":0.3506},{"x":0.6,"y":1.4,"v":0.3512},{"x":0.8,"y":1.4,"v":0.3515},{"x":1.0,"y":1.4,"v":0.3516},{"x":1.2,"y":1.4,"v":0.3515},{"x":1.4,"y":1.4,"v":0.351},{"x":1.6,"y":1.4,"v":0.3503},{"x":1.8,"y":1.4,"v":0.3497},{"x":2.0,"y":1.4,"v":0.3489},{"x":2.2,"y":1.4,"v":0.3483},{"x":2.4,"y":1.4,"v":0.3481},{"x":2.6,"y":1.4,"v":0.3478},{"x":2.8,"y":1.4,"v":0.3477},{"x":3.0,"y":1.4,"v":0.3477},{"x":3.2,"y":1.4,"v":0.3478},{"x":3.4,"y":1.4,"v":0.348},{"x":3.6,"y":1.4,"v":0.3482},{"x":3.8,"y":1.4,"v":0.3485},{"x":4.0,"y":1.4,"v":0.3486},{"x":4.2,"y":1.4,"v":0.3489},{"x":4.4,"y":1.4,"v":0.3489},{"x":4.6,"y":1.4,"v":0.3486},{"x":4.8,"y":1.4,"v":0.3482},{"x":5.0,"y":1.4,"v":0.3479},{"x":5.2,"y":1.4,"v":0.3478},{"x":5.4,"y":1.4,"v":0.3479},{"x":5.6,"y":1.4,"v":0.3481},{"x":5.8,"y":1.4,"v":0.3483},{"x":6.0,"y":1.4,"v":0.3489},{"x":6.2,"y":1.4,"v":0.3495},
{"x":0.2,"y":1.2,"v":0.3501},{"x":0.4,"y":1.2,"v":0.3506},{"x":0.6,"y":1.2,"v":0.3513},{"x":0.8,"y":1.2,"v":0.3515},{"x":1.0,"y":1.2,"v":0.3517},{"x":1.2,"y":1.2,"v":0.3515},{"x":1.4,"y":1.2,"v":0.3512},{"x":1.6,"y":1.2,"v":0.3506},{"x":1.8,"y":1.2,"v":0.3501},{"x":2.0,"y":1.2,"v":0.3493},{"x":2.2,"y":1.2,"v":0.3486},{"x":2.4,"y":1.2,"v":0.3484},{"x":2.6,"y":1.2,"v":0.3482},{"x":2.8,"y":1.2,"v":0.3482},{"x":3.0,"y":1.2,"v":0.3482},{"x":3.2,"y":1.2,"v":0.3482},{"x":3.4,"y":1.2,"v":0.3484},{"x":3.6,"y":1.2,"v":0.3485},{"x":3.8,"y":1.2,"v":0.3487},{"x":4.0,"y":1.2,"v":0.3489},{"x":4.2,"y":1.2,"v":0.3489},{"x":4.4,"y":1.2,"v":0.3489},{"x":4.6,"y":1.2,"v":0.3486},{"x":4.8,"y":1.2,"v":0.3483},{"x":5.0,"y":1.2,"v":0.348},{"x":5.2,"y":1.2,"v":0.3479},{"x":5.4,"y":1.2,"v":0.348},{"x":5.6,"y":1.2,"v":0.3481},{"x":5.8,"y":1.2,"v":0.3484},{"x":6.0,"y":1.2,"v":0.3489},{"x":6.2,"y":1.2,"v":0.3496},
{"x":0.2,"y":1.0,"v":0.3501},{"x":0.4,"y":1.0,"v":0.3507},{"x":0.6,"y":1.0,"v":0.3513},{"x":0.8,"y":1.0,"v":0.3516},{"x":1.0,"y":1.0,"v":0.3518},{"x":1.2,"y":1.0,"v":0.3517},{"x":1.4,"y":1.0,"v":0.3514},{"x":1.6,"y":1.0,"v":0.3509},{"x":1.8,"y":1.0,"v":0.3503},{"x":2.0,"y":1.0,"v":0.3497},{"x":2.2,"y":1.0,"v":0.3492},{"x":2.4,"y":1.0,"v":0.3487},{"x":2.6,"y":1.0,"v":0.3485},{"x":2.8,"y":1.0,"v":0.3485},{"x":3.0,"y":1.0,"v":0.3485},{"x":3.2,"y":1.0,"v":0.3485},{"x":3.4,"y":1.0,"v":0.3487},{"x":3.6,"y":1.0,"v":0.3489},{"x":3.8,"y":1.0,"v":0.349},{"x":4.0,"y":1.0,"v":0.349},{"x":4.2,"y":1.0,"v":0.349},{"x":4.4,"y":1.0,"v":0.349},{"x":4.6,"y":1.0,"v":0.3487},{"x":4.8,"y":1.0,"v":0.3484},{"x":5.0,"y":1.0,"v":0.3482},{"x":5.2,"y":1.0,"v":0.3481},{"x":5.4,"y":1.0,"v":0.3482},{"x":5.6,"y":1.0,"v":0.3483},{"x":5.8,"y":1.0,"v":0.3486},{"x":6.0,"y":1.0,"v":0.349},{"x":6.2,"y":1.0,"v":0.3497},
{"x":0.2,"y":0.8,"v":0.3502},{"x":0.4,"y":0.8,"v":0.3508},{"x":0.6,"y":0.8,"v":0.3514},{"x":0.8,"y":0.8,"v":0.3517},{"x":1.0,"y":0.8,"v":0.3519},{"x":1.2,"y":0.8,"v":0.3518},{"x":1.4,"y":0.8,"v":0.3517},{"x":1.6,"y":0.8,"v":0.3513},{"x":1.8,"y":0.8,"v":0.3507},{"x":2.0,"y":0.8,"v":0.3502},{"x":2.2,"y":0.8,"v":0.3498},{"x":2.4,"y":0.8,"v":0.3495},{"x":2.6,"y":0.8,"v":0.3492},{"x":2.8,"y":0.8,"v":0.349},{"x":3.0,"y":0.8,"v":0.3489},{"x":3.2,"y":0.8,"v":0.349},{"x":3.4,"y":0.8,"v":0.3492},{"x":3.6,"y":0.8,"v":0.3493},{"x":3.8,"y":0.8,"v":0.3494},{"x":4.0,"y":0.8,"v":0.3494},{"x":4.2,"y":0.8,"v":0.3492},{"x":4.4,"y":0.8,"v":0.349},{"x":4.6,"y":0.8,"v":0.3487},{"x":4.8,"y":0.8,"v":0.3485},{"x":5.0,"y":0.8,"v":0.3483},{"x":5.2,"y":0.8,"v":0.3482},{"x":5.4,"y":0.8,"v":0.3483},{"x":5.6,"y":0.8,"v":0.3484},{"x":5.8,"y":0.8,"v":0.3486},{"x":6.0,"y":0.8,"v":0.3492},{"x":6.2,"y":0.8,"v":0.3498},
{"x":0.2,"y":0.6,"v":0.3503},{"x":0.4,"y":0.6,"v":0.3509},{"x":0.6,"y":0.6,"v":0.3515},{"x":0.8,"y":0.6,"v":0.3518},{"x":1.0,"y":0.6,"v":0.352},{"x":1.2,"y":0.6,"v":0.3521},{"x":1.4,"y":0.6,"v":0.3519},{"x":1.6,"y":0.6,"v":0.3516},{"x":1.8,"y":0.6,"v":0.3512},{"x":2.0,"y":0.6,"v":0.3508},{"x":2.2,"y":0.6,"v":0.3503},{"x":2.4,"y":0.6,"v":0.35},{"x":2.6,"y":0.6,"v":0.3497},{"x":2.8,"y":0.6,"v":0.3495},{"x":3.0,"y":0.6,"v":0.3494},{"x":3.2,"y":0.6,"v":0.3493},{"x":3.4,"y":0.6,"v":0.3493},{"x":3.6,"y":0.6,"v":0.3494},{"x":3.8,"y":0.6,"v":0.3494},{"x":4.0,"y":0.6,"v":0.3494},{"x":4.2,"y":0.6,"v":0.3493},{"x":4.4,"y":0.6,"v":0.349},{"x":4.6,"y":0.6,"v":0.3489},{"x":4.8,"y":0.6,"v":0.3486},{"x":5.0,"y":0.6,"v":0.3485},{"x":5.2,"y":0.6,"v":0.3485},{"x":5.4,"y":0.6,"v":0.3485},{"x":5.6,"y":0.6,"v":0.3485},{"x":5.8,"y":0.6,"v":0.3489},{"x":6.0,"y":0.6,"v":0.3494},{"x":6.2,"y":0.6,"v":0.3499},
{"x":0.2,"y":0.4,"v":0.3504},{"x":0.4,"y":0.4,"v":0.351},{"x":0.6,"y":0.4,"v":0.3515},{"x":0.8,"y":0.4,"v":0.3519},{"x":1.0,"y":0.4,"v":0.3522},{"x":1.2,"y":0.4,"v":0.3522},{"x":1.4,"y":0.4,"v":0.3521},{"x":1.6,"y":0.4,"v":0.3519},{"x":1.8,"y":0.4,"v":0.3516},{"x":2.0,"y":0.4,"v":0.3512},{"x":2.2,"y":0.4,"v":0.3508},{"x":2.4,"y":0.4,"v":0.3504},{"x":2.6,"y":0.4,"v":0.35},{"x":2.8,"y":0.4,"v":0.3497},{"x":3.0,"y":0.4,"v":0.3496},{"x":3.2,"y":0.4,"v":0.3495},{"x":3.4,"y":0.4,"v":0.3494},{"x":3.6,"y":0.4,"v":0.3494},{"x":3.8,"y":0.4,"v":0.3494},{"x":4.0,"y":0.4,"v":0.3494},{"x":4.2,"y":0.4,"v":0.3493},{"x":4.4,"y":0.4,"v":0.3492},{"x":4.6,"y":0.4,"v":0.349},{"x":4.8,"y":0.4,"v":0.3489},{"x":5.0,"y":0.4,"v":0.3487},{"x":5.2,"y":0.4,"v":0.3487},{"x":5.4,"y":0.4,"v":0.3487},{"x":5.6,"y":0.4,"v":0.3489},{"x":5.8,"y":0.4,"v":0.3492},{"x":6.0,"y":0.4,"v":0.3495},{"x":6.2,"y":0.4,"v":0.35},
{"x":0.2,"y":0.2,"v":0.3505},{"x":0.4,"y":0.2,"v":0.351},{"x":0.6,"y":0.2,"v":0.3515},{"x":0.8,"y":0.2,"v":0.3518},{"x":1.0,"y":0.2,"v":0.3522},{"x":1.2,"y":0.2,"v":0.3523},{"x":1.4,"y":0.2,"v":0.3522},{"x":1.6,"y":0.2,"v":0.352},{"x":1.8,"y":0.2,"v":0.3517},{"x":2.0,"y":0.2,"v":0.3515},{"x":2.2,"y":0.2,"v":0.3512},{"x":2.4,"y":0.2,"v":0.3508},{"x":2.6,"y":0.2,"v":0.3503},{"x":2.8,"y":0.2,"v":0.3499},{"x":3.0,"y":0.2,"v":0.3497},{"x":3.2,"y":0.2,"v":0.3496},{"x":3.4,"y":0.2,"v":0.3495},{"x":3.6,"y":0.2,"v":0.3495},{"x":3.8,"y":0.2,"v":0.3495},{"x":4.0,"y":0.2,"v":0.3494},{"x":4.2,"y":0.2,"v":0.3493},{"x":4.4,"y":0.2,"v":0.3493},{"x":4.6,"y":0.2,"v":0.3492},{"x":4.8,"y":0.2,"v":0.349},{"x":5.0,"y":0.2,"v":0.3489},{"x":5.2,"y":0.2,"v":0.3489},{"x":5.4,"y":0.2,"v":0.349},{"x":5.6,"y":0.2,"v":0.3492},{"x":5.8,"y":0.2,"v":0.3494},{"x":6.0,"y":0.2,"v":0.3497},{"x":6.2,"y":0.2,"v":0.3501}
]},"mark":{"type":"rect","width":17,"height":16},"encoding":{"x":{"field":"x","type":"quantitative","scale":{"domain":[0,7],"reverse":true,"nice":false},"axis":{"values":[0,1,2,3,4,5,6,7],"grid":true,"gridDash":[1,9],"gridColor":"#444","format":"d","labelPadding":14,"ticks":true,"tickSize":-6,"tickColor":"#333","tickWidth":1}},"y":{"field":"y","type":"quantitative","scale":{"domain":[0,7.0253],"nice":false},"axis":{"orient":"right","values":[0,1,2,3,4,5,6,7],"grid":true,"gridDash":[1,9],"gridColor":"#444","format":"d","ticks":true,"tickSize":-6,"tickColor":"#333","tickWidth":1}},"color":{"field":"v","type":"quantitative","legend":null,"scale":{"type":"quantize","domain":[0.34691,0.35219],"range":["#0000be","#0000e1","#0000f5","#000aff","#0a14ff","#0f1eff","#1423ff","#1928ff","#1e2dff","#1e32ff","#2337ff","#233cff","#2846ff","#2d55ff","#3264ff","#3c7dff","#4696ff","#50afff","#5ad2ff","#5ff0ff","#64ffff","#64ffff","#69fffa","#6efff0","#6effe1","#70ffcd","#73ffbe","#73ffaa","#76ff96","#76ff82","#78ff6e","#7dff5a","#82ff46","#8cff32","#a0ff19","#afff05","#b9ff00","#c8ff00","#dcff00","#f0ff00","#ffff00","#ffeb00","#ffd700","#ffc300","#ffaa00","#ff9600","#ff8200","#ff6e00","#ff5a00","#ff4600","#ff3200","#ff2300","#ff1600","#ff0f00","#ff0800","#ff0000","#f50000","#e60000","#d70000","#c80000","#b40000","#a00000","#870000","#640000"]}}}},{"width":43,"height":555,"view":{"stroke":"#111","strokeWidth":2},"data":{"name":"cb"},"layer":[{"mark":{"type":"rect","height":9,"clip":true},"encoding":{"x":{"datum":0,"type":"quantitative","scale":{"domain":[0,1]},"axis":null},"x2":{"datum":1},"y":{"field":"v","type":"quantitative","scale":{"domain":[0.34691,0.35219],"nice":false},"axis":{"orient":"right","grid":false,"values":[0.347,0.3475,0.348,0.3485,0.349,0.3495,0.35,0.3505,0.351,0.3515,0.352],"labelExpr":"format(datum.value,'.4~f')","zindex":1,"labelPadding":13,"ticks":true,"tickSize":-6,"tickColor":"#333","tickWidth":1}},"color":{"field":"v","type":"quantitative","legend":null,"scale":{"type":"quantize","domain":[0.34691,0.35219],"range":["#0000be","#0000e1","#0000f5","#000aff","#0a14ff","#0f1eff","#1423ff","#1928ff","#1e2dff","#1e32ff","#2337ff","#233cff","#2846ff","#2d55ff","#3264ff","#3c7dff","#4696ff","#50afff","#5ad2ff","#5ff0ff","#64ffff","#64ffff","#69fffa","#6efff0","#6effe1","#70ffcd","#73ffbe","#73ffaa","#76ff96","#76ff82","#78ff6e","#7dff5a","#82ff46","#8cff32","#a0ff19","#afff05","#b9ff00","#c8ff00","#dcff00","#f0ff00","#ffff00","#ffeb00","#ffd700","#ffc300","#ffaa00","#ff9600","#ff8200","#ff6e00","#ff5a00","#ff4600","#ff3200","#ff2300","#ff1600","#ff0f00","#ff0800","#ff0000","#f50000","#e60000","#d70000","#c80000","#b40000","#a00000","#870000","#640000"]}}}},{"mark":{"type":"rule","opacity":0},"encoding":{"y":{"field":"v","type":"quantitative","scale":{"domain":[0.34691,0.35219],"nice":false},"axis":{"orient":"left","grid":false,"values":[0.347,0.3475,0.348,0.3485,0.349,0.3495,0.35,0.3505,0.351,0.3515,0.352],"labels":false,"zindex":1,"ticks":true,"tickSize":-6,"tickColor":"#333","tickWidth":1}}}}],"resolve":{"axis":{"y":"independent"}}}]}
